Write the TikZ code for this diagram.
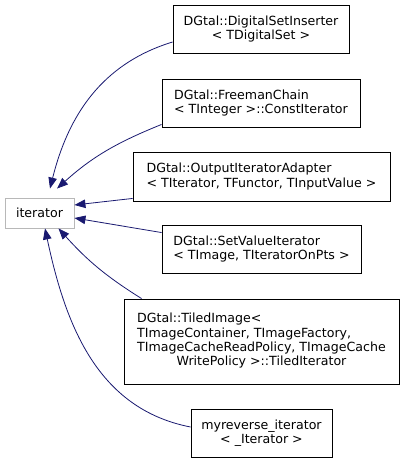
\documentclass[tikz,border=0pt]{standalone}
\usepackage{fontspec}
\setmainfont{DejaVu Sans}
\usetikzlibrary{arrows.meta}
\definecolor{edgeblue}{HTML}{191970}

\begin{document}
\begin{tikzpicture}[x=1pt, y=1pt,
  cls/.style={draw=black, line width=0.9pt, fill=white, inner sep=0pt,
              minimum width=#1, minimum height=48pt, align=left,
              font=\fontsize{12.6}{14.3}\selectfont},
  base/.style={draw=black!28, line width=0.9pt, fill=white, inner sep=0pt,
               minimum width=69pt, minimum height=30pt,
               font=\fontsize{12.6}{14.3}\selectfont},
  inh/.style={{Triangle[length=11pt, width=8.5pt, fill=edgeblue]}-,
              draw=edgeblue, line width=0.8pt}
]
\useasboundingbox (0,0) rectangle (405,-463);

\node[base]          (it) at (39.5,-213)   {iterator};
\node[cls=176pt, align=center] (dsi) at (261,-29) {DGtal::DigitalSetInserter\\< TDigitalSet >};
\node[cls=198pt]     (fc)  at (261,-103)   {DGtal::FreemanChain\\< TInteger >::ConstIterator};
\node[cls=257pt, minimum height=49pt] (oia) at (261.5,-176.5)
  {DGtal::OutputIteratorAdapter\\< TIterator, TFunctor, TInputValue >};
\node[cls=199pt]     (svi) at (261.5,-249) {DGtal::SetValueIterator\\< TImage, TIteratorOnPts >};
\node[cls=275pt, minimum height=85pt] (ti) at (261.5,-341.5)
  {\begin{tabular}{@{}l@{}}
   DGtal::TiledImage<\\
   TImageContainer, TImageFactory,\\
   TImageCacheReadPolicy, TImageCache\\
   \multicolumn{1}{@{}c@{}}{WritePolicy >::TiledIterator}
   \end{tabular}};
\node[cls=141pt, align=center] (mri) at (261.5,-433) {myreverse\_iterator\\< \_Iterator >};

\draw[inh] ([shift={(10.5,9)}]it.north) to[out=76, in=197] ([yshift=-13pt]dsi.west);
\draw[inh] ([shift={(17.5,9)}]it.north) to[out=42, in=202] ([yshift=3pt]fc.south west);
\draw[inh] ([yshift=8pt]it.east) -- ([yshift=3pt]oia.south west);
\draw[inh] ([yshift=-5pt]it.east) -- ([yshift=-8pt]svi.north west);
\draw[inh] ([xshift=19pt]it.south) to[out=-48, in=148] ([xshift=18pt]ti.north west);
\draw[inh] ([xshift=5.5pt]it.south) to[out=-78, in=169] ([yshift=6pt]mri.west);
\end{tikzpicture}
\end{document}
